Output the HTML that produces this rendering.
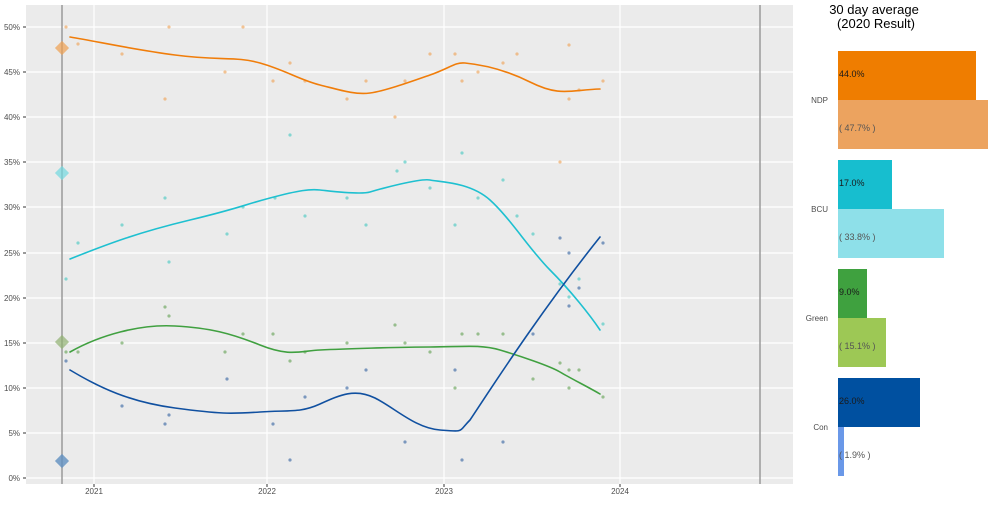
<!DOCTYPE html>
<html><head><style>
body{margin:0;background:#fff;width:1000px;height:500px;overflow:hidden;font-family:"Liberation Sans",sans-serif;}
</style></head><body>
<svg width="1000" height="500" xmlns="http://www.w3.org/2000/svg" font-family="Liberation Sans, sans-serif">
<rect x="26" y="5" width="767" height="479" fill="#ebebeb"/>
<g stroke="#fff" stroke-width="1.2">
<line x1="26" x2="793" y1="478" y2="478"/><line x1="26" x2="793" y1="433" y2="433"/><line x1="26" x2="793" y1="388" y2="388"/><line x1="26" x2="793" y1="343" y2="343"/><line x1="26" x2="793" y1="298" y2="298"/><line x1="26" x2="793" y1="253" y2="253"/><line x1="26" x2="793" y1="207" y2="207"/><line x1="26" x2="793" y1="162" y2="162"/><line x1="26" x2="793" y1="117" y2="117"/><line x1="26" x2="793" y1="72" y2="72"/><line x1="26" x2="793" y1="27" y2="27"/>
<line x1="94" x2="94" y1="5" y2="484"/><line x1="267" x2="267" y1="5" y2="484"/><line x1="444" x2="444" y1="5" y2="484"/><line x1="620" x2="620" y1="5" y2="484"/>
</g>
<g stroke="#333" stroke-width="1">
<line x1="23" x2="26" y1="478" y2="478"/><line x1="23" x2="26" y1="433" y2="433"/><line x1="23" x2="26" y1="388" y2="388"/><line x1="23" x2="26" y1="343" y2="343"/><line x1="23" x2="26" y1="298" y2="298"/><line x1="23" x2="26" y1="253" y2="253"/><line x1="23" x2="26" y1="207" y2="207"/><line x1="23" x2="26" y1="162" y2="162"/><line x1="23" x2="26" y1="117" y2="117"/><line x1="23" x2="26" y1="72" y2="72"/><line x1="23" x2="26" y1="27" y2="27"/>
<line x1="94" x2="94" y1="484" y2="487"/><line x1="267" x2="267" y1="484" y2="487"/><line x1="444" x2="444" y1="484" y2="487"/><line x1="620" x2="620" y1="484" y2="487"/>
</g>
<g font-size="8" fill="#4d4d4d" text-anchor="end">
<text x="20" y="481">0%</text><text x="20" y="436">5%</text><text x="20" y="391">10%</text><text x="20" y="346">15%</text><text x="20" y="301">20%</text><text x="20" y="256">25%</text><text x="20" y="210">30%</text><text x="20" y="165">35%</text><text x="20" y="120">40%</text><text x="20" y="75">45%</text><text x="20" y="30">50%</text>
</g>
<g font-size="8" fill="#4d4d4d" text-anchor="middle">
<text x="94" y="494">2021</text><text x="267" y="494">2022</text><text x="444" y="494">2023</text><text x="620" y="494">2024</text>
</g>
<line x1="62" x2="62" y1="5" y2="484" stroke="#999" stroke-width="1.5"/>
<line x1="760" x2="760" y1="5" y2="484" stroke="#999" stroke-width="1.5"/>
<g opacity="0.6">
<g fill="#f0a050"><circle cx="66" cy="27" r="1.6"/><circle cx="78" cy="44" r="1.6"/><circle cx="122" cy="54" r="1.6"/><circle cx="165" cy="99" r="1.6"/><circle cx="169" cy="27" r="1.6"/><circle cx="225" cy="72" r="1.6"/><circle cx="243" cy="27" r="1.6"/><circle cx="273" cy="81" r="1.6"/><circle cx="290" cy="63" r="1.6"/><circle cx="305" cy="81" r="1.6"/><circle cx="347" cy="99" r="1.6"/><circle cx="366" cy="81" r="1.6"/><circle cx="395" cy="117" r="1.6"/><circle cx="405" cy="81" r="1.6"/><circle cx="430" cy="54" r="1.6"/><circle cx="455" cy="54" r="1.6"/><circle cx="462" cy="81" r="1.6"/><circle cx="478" cy="72" r="1.6"/><circle cx="503" cy="63" r="1.6"/><circle cx="517" cy="54" r="1.6"/><circle cx="560" cy="162" r="1.6"/><circle cx="569" cy="45" r="1.6"/><circle cx="569" cy="99" r="1.6"/><circle cx="579" cy="90" r="1.6"/><circle cx="603" cy="81" r="1.6"/></g>
<g fill="#40c8c0"><circle cx="66" cy="279" r="1.6"/><circle cx="78" cy="243" r="1.6"/><circle cx="122" cy="225" r="1.6"/><circle cx="165" cy="198" r="1.6"/><circle cx="169" cy="262" r="1.6"/><circle cx="227" cy="234" r="1.6"/><circle cx="243" cy="207" r="1.6"/><circle cx="275" cy="198" r="1.6"/><circle cx="290" cy="135" r="1.6"/><circle cx="305" cy="216" r="1.6"/><circle cx="347" cy="198" r="1.6"/><circle cx="366" cy="225" r="1.6"/><circle cx="397" cy="171" r="1.6"/><circle cx="405" cy="162" r="1.6"/><circle cx="430" cy="188" r="1.6"/><circle cx="455" cy="225" r="1.6"/><circle cx="462" cy="153" r="1.6"/><circle cx="478" cy="198" r="1.6"/><circle cx="503" cy="180" r="1.6"/><circle cx="517" cy="216" r="1.6"/><circle cx="533" cy="234" r="1.6"/><circle cx="560" cy="284" r="1.6"/><circle cx="569" cy="297" r="1.6"/><circle cx="579" cy="279" r="1.6"/><circle cx="603" cy="324" r="1.6"/></g>
<g fill="#60a050"><circle cx="66" cy="352" r="1.6"/><circle cx="78" cy="352" r="1.6"/><circle cx="122" cy="343" r="1.6"/><circle cx="165" cy="307" r="1.6"/><circle cx="169" cy="316" r="1.6"/><circle cx="225" cy="352" r="1.6"/><circle cx="243" cy="334" r="1.6"/><circle cx="273" cy="334" r="1.6"/><circle cx="290" cy="361" r="1.6"/><circle cx="305" cy="352" r="1.6"/><circle cx="347" cy="343" r="1.6"/><circle cx="395" cy="325" r="1.6"/><circle cx="405" cy="343" r="1.6"/><circle cx="430" cy="352" r="1.6"/><circle cx="455" cy="388" r="1.6"/><circle cx="462" cy="334" r="1.6"/><circle cx="478" cy="334" r="1.6"/><circle cx="503" cy="334" r="1.6"/><circle cx="533" cy="379" r="1.6"/><circle cx="560" cy="363" r="1.6"/><circle cx="569" cy="388" r="1.6"/><circle cx="569" cy="370" r="1.6"/><circle cx="579" cy="370" r="1.6"/><circle cx="603" cy="397" r="1.6"/></g>
<g fill="#3060a0"><circle cx="66" cy="361" r="1.6"/><circle cx="122" cy="406" r="1.6"/><circle cx="165" cy="424" r="1.6"/><circle cx="169" cy="415" r="1.6"/><circle cx="227" cy="379" r="1.6"/><circle cx="273" cy="424" r="1.6"/><circle cx="290" cy="460" r="1.6"/><circle cx="305" cy="397" r="1.6"/><circle cx="347" cy="388" r="1.6"/><circle cx="366" cy="370" r="1.6"/><circle cx="405" cy="442" r="1.6"/><circle cx="455" cy="370" r="1.6"/><circle cx="462" cy="460" r="1.6"/><circle cx="503" cy="442" r="1.6"/><circle cx="533" cy="334" r="1.6"/><circle cx="560" cy="238" r="1.6"/><circle cx="569" cy="253" r="1.6"/><circle cx="569" cy="306" r="1.6"/><circle cx="579" cy="288" r="1.6"/><circle cx="603" cy="243" r="1.6"/></g>
</g>
<g fill="none" stroke-width="1.6" stroke-linecap="round" stroke-linejoin="round">
<path stroke="#f07d0a" d="M70,37 C100,42 130,49 175,55 S235,56 260,63 S300,80 320,85 S355,95 370,93 S410,82 430,75 S455,62 465,63 S500,67 530,82 S570,90 600,89"/>
<path stroke="#1ec0d0" d="M70,259 C110,243 140,232 190,220 S240,206 270,198 S310,189 320,190 S360,195 370,192 S420,178 430,180 S470,182 490,200 S530,250 550,270 S590,315 600,330"/>
<path stroke="#40a040" d="M70,352 C100,335 140,324 175,326 S230,333 260,345 S300,351 320,350 S400,347 430,347 S480,344 500,350 S550,366 560,372 S590,388 600,394"/>
<path stroke="#1050a0" d="M70,370 C100,388 130,402 175,408 S230,414 260,412 S300,413 320,404 S355,388 375,398 S415,428 440,430 S458,432 470,420 C490,390 540,312 600,237"/>
</g>
<g>
<rect x="57" y="43" width="10" height="10" transform="rotate(45 62 48)" fill="#f0a050" opacity="0.7"/>
<rect x="57" y="168" width="10" height="10" transform="rotate(45 62 173)" fill="#70d8e0" opacity="0.7"/>
<rect x="57" y="337" width="10" height="10" transform="rotate(45 62 342)" fill="#90b070" opacity="0.7"/>
<rect x="57" y="456" width="10" height="10" transform="rotate(45 62 461)" fill="#6090c0" opacity="0.8"/>
</g>
<text x="874" y="14" font-size="13" text-anchor="middle" fill="#000">30 day average</text>
<text x="876" y="28" font-size="13" text-anchor="middle" fill="#000">(2020 Result)</text>
<rect x="838" y="51" width="138" height="49" fill="#ef7d00"/>
<rect x="838" y="100" width="150" height="49" fill="#eca35f"/>
<rect x="838" y="160" width="54" height="49" fill="#17becf"/>
<rect x="838" y="209" width="106" height="49" fill="#8ee0e9"/>
<rect x="838" y="269" width="29" height="49" fill="#3fa13f"/>
<rect x="838" y="318" width="48" height="49" fill="#9dc855"/>
<rect x="838" y="378" width="82" height="49" fill="#0050a0"/>
<rect x="838" y="427" width="6" height="49" fill="#6a98e8"/>
<g font-size="9" fill="#1a1a1a">
<text x="839" y="77">44.0%</text><text x="839" y="186">17.0%</text><text x="839" y="295">9.0%</text><text x="839" y="404">26.0%</text>
</g>
<g font-size="9" fill="#555">
<text x="839" y="131">( 47.7% )</text><text x="839" y="240">( 33.8% )</text><text x="839" y="349">( 15.1% )</text><text x="839" y="458">( 1.9% )</text>
</g>
<g font-size="8" fill="#4d4d4d" text-anchor="end">
<text x="828" y="103">NDP</text><text x="828" y="212">BCU</text><text x="828" y="321">Green</text><text x="828" y="430">Con</text>
</g>
</svg>
</body></html>
